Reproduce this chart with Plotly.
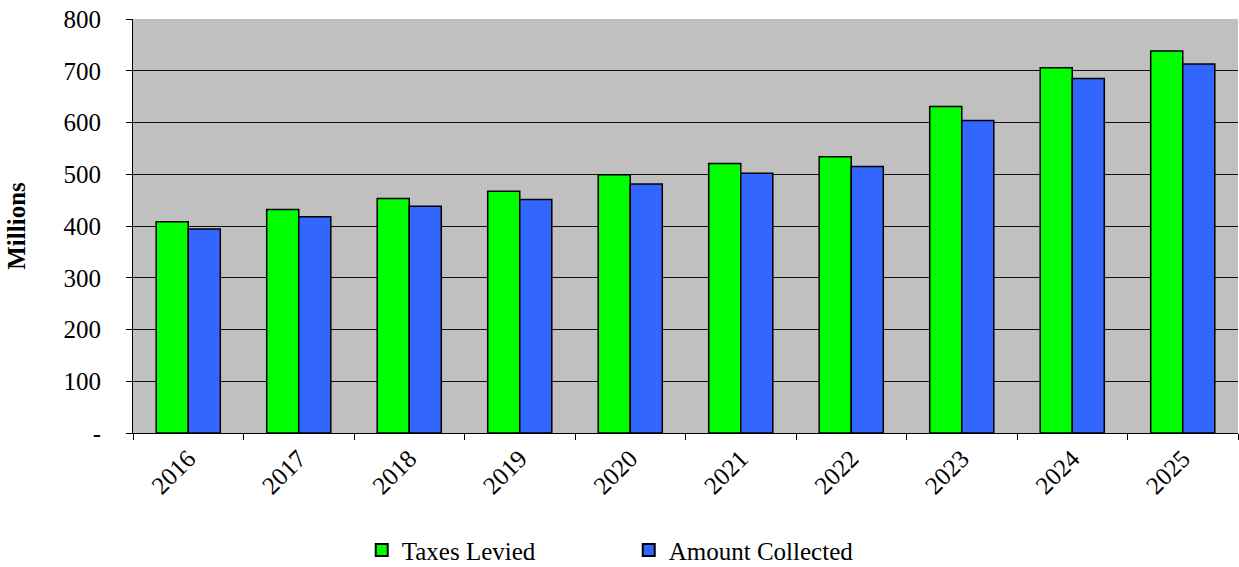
import plotly.graph_objects as go

years = ["2016", "2017", "2018", "2019", "2020", "2021", "2022", "2023", "2024", "2025"]
taxes_levied = [408, 432, 453, 467, 499, 521, 534, 631, 706, 738]
amount_collected = [394, 418, 438, 451, 481, 502, 515, 604, 685, 713]
ytick_vals = [0, 100, 200, 300, 400, 500, 600, 700, 800]
ytick_text = ["-", "100", "200", "300", "400", "500", "600", "700", "800"]

FONT = "Liberation Serif, Times New Roman, serif"

fig = go.Figure()
fig.add_trace(go.Bar(x=years, y=taxes_levied, name="Taxes Levied",
                     marker=dict(color="#00FF00", line=dict(color="black", width=1.5))))
fig.add_trace(go.Bar(x=years, y=amount_collected, name="Amount Collected",
                     marker=dict(color="#3366FF", line=dict(color="black", width=1.5))))

fig.update_layout(
    width=1239, height=567,
    margin=dict(l=133, r=1, t=19, b=134, autoexpand=False),
    plot_bgcolor="#C0C0C0", paper_bgcolor="white",
    barmode="group", bargap=0.42, bargroupgap=0,
    font=dict(family=FONT, size=25, color="black"),
    showlegend=True,
    legend=dict(orientation="h", x=0.207, xanchor="left", y=-0.283, yanchor="middle",
                font=dict(family=FONT, size=25), entrywidth=222, entrywidthmode="pixels",
                itemsizing="constant", bgcolor="rgba(0,0,0,0)"),
)
fig.update_xaxes(
    type="category", tickson="boundaries", ticks="outside", ticklen=6, tickcolor="black",
    showline=True, linecolor="black", linewidth=1, tickangle=-45, showgrid=False,
    tickfont=dict(family=FONT, size=25), automargin=False,
)
fig.update_yaxes(
    range=[0, 800], tickvals=ytick_vals, ticktext=ytick_text, ticks="outside", ticklen=6,
    tickcolor="black", showline=True, linecolor="black", linewidth=1,
    showgrid=True, gridcolor="#111111", gridwidth=1, zeroline=False,
    tickfont=dict(family=FONT, size=25), automargin=False, ticklabelstandoff=20,
    title=dict(text="<b>Millions</b>", font=dict(family=FONT, size=25), standoff=30),
)

fig.write_html("out.html")
